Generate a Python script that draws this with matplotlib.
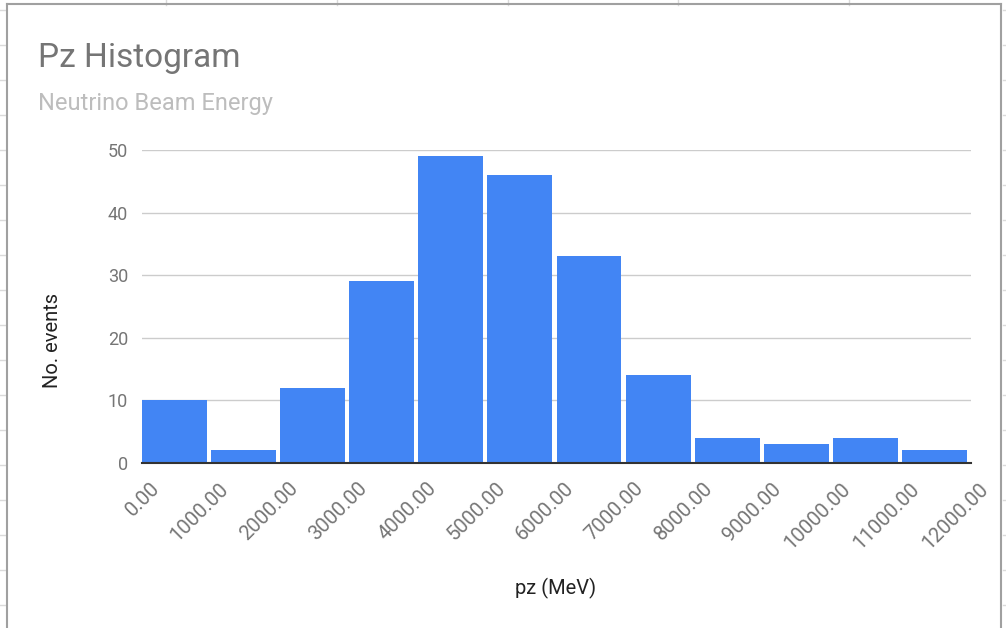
import numpy as np
import matplotlib
matplotlib.use("Agg")
import matplotlib.pyplot as plt
from matplotlib.lines import Line2D
from matplotlib.transforms import ScaledTranslation

plt.rcParams['font.family'] = ['Roboto', 'DejaVu Sans']

# histogram data (bin edges in MeV, counts per bin)
bin_edges = [0, 1000, 2000, 3000, 4000, 5000, 6000, 7000, 8000, 9000, 10000, 11000, 12000]
counts = [10, 2, 12, 29, 49, 46, 33, 14, 4, 3, 4, 2]
tick_labels = ["%.2f" % e for e in bin_edges]
y_ticks = [0, 10, 20, 30, 40, 50]

W, H = 1006, 628
fig = plt.figure(figsize=(W / 100, H / 100), dpi=100)

def fx(px):
    return px / W

def fy(py):
    return 1 - py / H

# spreadsheet cells behind the chart
cell_col = "#dadada"
for x in [166, 337, 508, 678, 849]:
    fig.add_artist(Line2D([fx(x), fx(x)], [fy(0), fy(5)], color=cell_col, lw=1))
for y in range(10, 628, 35):
    fig.add_artist(Line2D([0, fx(6)], [fy(y), fy(y)], color=cell_col, lw=1))
    fig.add_artist(Line2D([fx(1003), 1], [fy(y), fy(y)], color=cell_col, lw=1))

# chart frame
frame_col = "#a0a0a0"
fig.add_artist(Line2D([fx(7), fx(1001)], [fy(4), fy(4)], color=frame_col, lw=1.5))
fig.add_artist(Line2D([fx(7), fx(7)], [fy(4), 0], color=frame_col, lw=1.5))
fig.add_artist(Line2D([fx(1001), fx(1001)], [fy(4), 0], color=frame_col, lw=1.5))

ax = fig.add_axes([fx(142), fy(463), fx(971) - fx(142), fy(150) - fy(463)])

widths = np.diff(bin_edges)
gap = 60
ax.bar(bin_edges[:-1], counts, width=widths - gap, align='edge',
       color="#4285F4", edgecolor="none", zorder=2)

ax.set_xlim(bin_edges[0], bin_edges[-1] - gap)
ax.set_ylim(0, 50)
ax.set_yticks(y_ticks)
ax.set_yticklabels([str(v) for v in y_ticks])
ax.set_xticks(bin_edges)
ax.set_xticklabels(tick_labels)

for s in ["top", "right", "left"]:
    ax.spines[s].set_visible(False)
ax.spines["bottom"].set_color("#333333")
ax.spines["bottom"].set_linewidth(1.5)
ax.spines["bottom"].set_zorder(3)

ax.grid(axis='y', color="#cccccc", lw=1, zorder=0)
ax.set_axisbelow(True)

ax.tick_params(axis='y', length=0, pad=10, labelsize=13, labelcolor="#757575")
ax.tick_params(axis='x', length=0, pad=0, labelsize=14.5, labelcolor="#757575")

for lab in ax.get_xticklabels():
    lab.set_rotation(45)
    lab.set_ha('right')
    lab.set_va('top')
    lab.set_rotation_mode('anchor')
    lab.set_transform(lab.get_transform() + ScaledTranslation(0.08, -0.16, fig.dpi_scale_trans))

# titles
fig.text(fx(38), fy(67), "Pz Histogram", fontsize=24, color="#757575", va='baseline', ha='left')
fig.text(fx(38), fy(110), "Neutrino Beam Energy", fontsize=17, color="#bdbdbd", va='baseline', ha='left')

fig.text(fx(52), fy(340), "No. events", fontsize=14.5, color="#222222", rotation=90, ha='center', va='center')
fig.text(fx(556), fy(588), "pz (MeV)", fontsize=14.5, color="#222222", ha='center', va='center')

fig.savefig("out.png", dpi=100, facecolor="white")
